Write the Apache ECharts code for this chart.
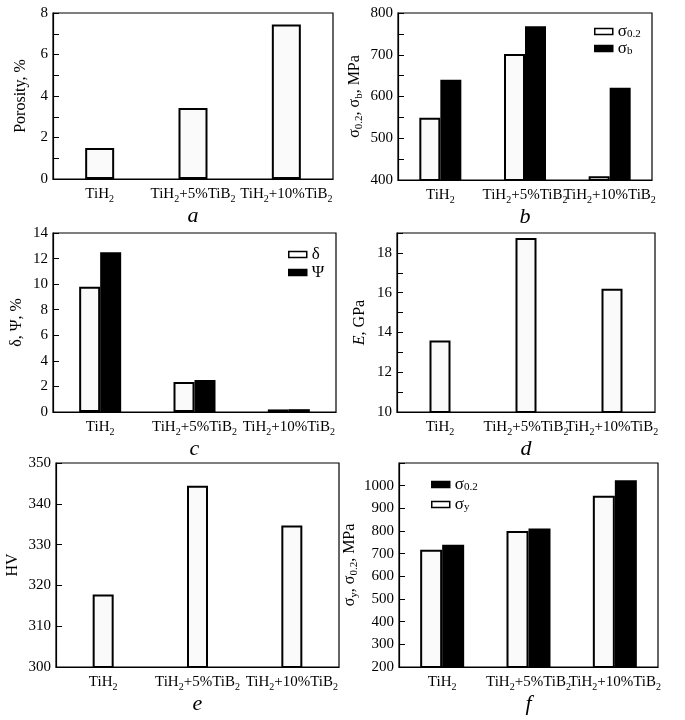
<!DOCTYPE html>
<html><head><meta charset="utf-8">
<script src="https://cdn.jsdelivr.net/npm/echarts@6/dist/echarts.min.js"></script>
<style>html,body{margin:0;padding:0;background:#fff}#c{width:685px;height:720px}</style>
</head><body><div id="c"></div>
<script>
// ---- data ----
const categories = ['TiH2', 'TiH2+5%TiB2', 'TiH2+10%TiB2'];
const porosity = [1.5, 3.42, 7.45];            // a
const sigma02_b = [549, 702, 409];             // b (white)
const sigmaB_b = [640, 768, 621];              // b (black)
const delta_c = [9.8, 2.35, 0.2];              // c (white)
const psi_c = [12.5, 2.5, 0.22];               // c (black)
const modulusE = [13.6, 18.75, 16.2];          // d
const hardnessHV = [317.8, 344.4, 334.7];      // e
const sigmaY_f = [717, 800, 956];              // f (white)
const sigma02_f = [739, 811, 1024];            // f (black)
const panelLetters = ['a', 'b', 'c', 'd', 'e', 'f'];
const yNames = ['Porosity, %', 'σ{s|0.2}, σ{s|b}, MPa', 'δ, Ψ, %', '{i|E}, GPa', 'HV', 'σ{s|y}, σ{s|0.2}, MPa'];
const legendLabels = { b1: 'σ{s|0.2}', b2: 'σ{s|b}', c1: 'δ', c2: 'Ψ', f1: 'σ{s|0.2}', f2: 'σ{s|y}' };

// ---- styling ----
const FF = 'Liberation Serif, Times New Roman, serif';
const WHITE = '#fafafa';
const chem = s => s.replace(/([A-Za-z])2/g, '$1{sub|2}');

const grids = [
  { left: 53, top: 13, width: 280, height: 166 },
  { left: 398, top: 13, width: 254, height: 167 },
  { left: 53, top: 233, width: 283, height: 179 },
  { left: 397, top: 233, width: 258, height: 179 },
  { left: 56, top: 463, width: 283, height: 204 },
  { left: 399, top: 463, width: 259, height: 204 }
].map(g => Object.assign(g, { show: true, borderColor: '#000', borderWidth: 1.2, containLabel: false }));

const letterGaps = [26, 24, 26, 26, 24, 24];
const xAxes = grids.map((g, i) => ({
  type: 'category', gridIndex: i, data: categories,
  axisTick: { show: false },
  axisLine: { lineStyle: { color: '#000', width: 1.2 } },
  axisLabel: {
    interval: 0, color: '#000', fontFamily: FF, fontSize: 15, lineHeight: 20, margin: 5,
    formatter: chem,
    rich: { sub: { fontFamily: FF, fontSize: 10, lineHeight: 11, verticalAlign: 'bottom', color: '#000' } }
  },
  name: panelLetters[i], nameLocation: 'middle', nameGap: letterGaps[i],
  nameTextStyle: { fontFamily: FF, fontStyle: 'italic', fontSize: 22, color: '#000' }
}));

const yCfg = [
  { min: 0, max: 8, interval: 1, step: 2, gap: 22 },
  { min: 400, max: 800, interval: 50, step: 100, gap: 33 },
  { min: 0, max: 14, interval: 2, step: 2, gap: 26 },
  { min: 10, max: 19, interval: 1, step: 2, gap: 27 },
  { min: 300, max: 350, interval: 10, step: 10, gap: 33 },
  { min: 200, max: 1100, interval: 100, step: 100, gap: 34, hideMax: true }
];
const yAxes = yCfg.map((c, i) => ({
  type: 'value', gridIndex: i, min: c.min, max: c.max, interval: c.interval,
  splitLine: { show: false },
  axisLine: { show: true, lineStyle: { color: '#000', width: 1.2 } },
  axisTick: { show: true, inside: true, length: 6, lineStyle: { color: '#000', width: 1 } },
  axisLabel: {
    color: '#000', fontFamily: FF, fontSize: 15, margin: 5,
    formatter: v => ((v - c.min) % c.step === 0 && !(c.hideMax && v === c.max)) ? String(v) : ''
  },
  name: yNames[i], nameLocation: 'middle', nameRotate: 90, nameGap: c.gap,
  nameTextStyle: {
    fontFamily: FF, fontSize: 16, color: '#000', lineHeight: 20,
    rich: {
      s: { fontFamily: FF, fontSize: 11, lineHeight: 12, verticalAlign: 'bottom', color: '#000' },
      i: { fontFamily: FF, fontSize: 16, fontStyle: 'italic', color: '#000' }
    }
  }
}));

const whiteStyle = { color: WHITE, borderColor: '#000', borderWidth: 2 };
const blackStyle = { color: '#000', borderColor: '#000', borderWidth: 2 };
function bar(name, idx, data, style, width) {
  return { type: 'bar', name: name, xAxisIndex: idx, yAxisIndex: idx, data: data,
    barWidth: width, barGap: '0%', clip: true, itemStyle: style, emphasis: { disabled: true }, animation: false };
}
const series = [
  bar('a1', 0, porosity, whiteStyle, 29),
  bar('b1', 1, sigma02_b, whiteStyle, 21),
  bar('b2', 1, sigmaB_b, blackStyle, 21),
  bar('c1', 2, delta_c, whiteStyle, 21),
  bar('c2', 2, psi_c, blackStyle, 21),
  bar('d1', 3, modulusE, whiteStyle, 21),
  bar('e1', 4, hardnessHV, whiteStyle, 21),
  bar('f1', 5, sigmaY_f, whiteStyle, 22),
  bar('f2', 5, sigma02_f, blackStyle, 22)
];

const legIconW = { icon: 'rect', itemStyle: { color: '#fff', borderColor: '#000', borderWidth: 1.5 } };
const legIconB = { icon: 'rect', itemStyle: { color: '#000', borderColor: '#000', borderWidth: 1.5 } };
function legend(left, top, gap, items) {
  return {
    left: left, top: top, orient: 'vertical', itemWidth: 18, itemHeight: 6, itemGap: gap,
    selectedMode: false,
    data: items.map(it => Object.assign({ name: it[0] }, it[1])),
    formatter: n => legendLabels[n],
    textStyle: {
      fontFamily: FF, fontSize: 17, color: '#000', lineHeight: 17, padding: [0, 0, 0, 0],
      rich: { s: { fontFamily: FF, fontSize: 11, lineHeight: 10, verticalAlign: 'bottom', color: '#000' } }
    }
  };
}
const legends = [
  legend(589, 18, 0, [['b1', legIconW], ['b2', legIconB]]),
  legend(283, 241, 1, [['c1', legIconW], ['c2', legIconB]]),
  legend(426, 471, 3, [['f1', legIconB], ['f2', legIconW]])
];
// f legend: black = σ0.2 (series f2 is σ0.2 black), white = σy
legends[2].data = [
  Object.assign({ name: 'f2' }, legIconB),
  Object.assign({ name: 'f1' }, legIconW)
];
legendLabels.f2 = 'σ{s|0.2}';
legendLabels.f1 = 'σ{s|y}';

const chart = echarts.init(document.getElementById('c'), null, { renderer: 'canvas' });
chart.setOption({
  backgroundColor: '#fff',
  animation: false,
  textStyle: { fontFamily: FF },
  grid: grids, xAxis: xAxes, yAxis: yAxes, series: series, legend: legends
});
</script></body></html>
